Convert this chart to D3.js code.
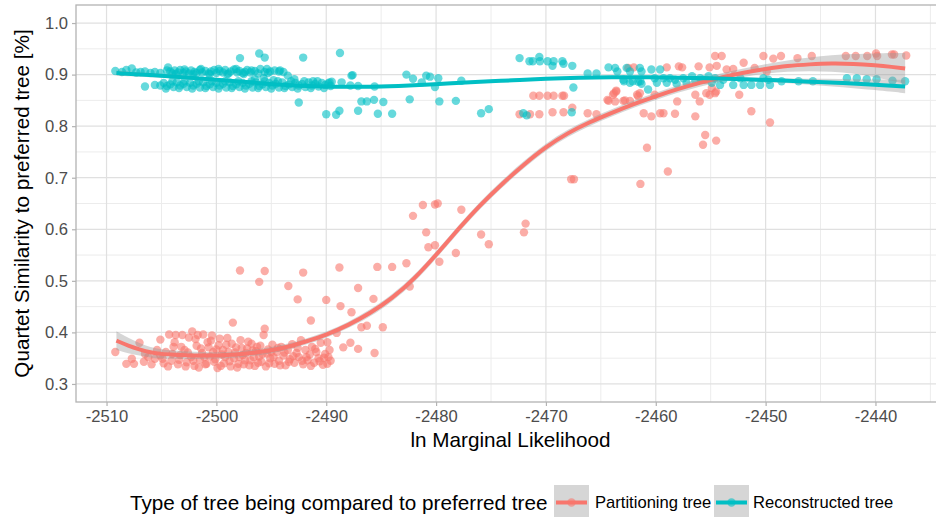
<!DOCTYPE html>
<html>
<head>
<meta charset="utf-8">
<script src="https://cdn.jsdelivr.net/npm/d3@7"></script>
<style>
  html, body { margin: 0; padding: 0; background: #ffffff; }
  svg { display: block; font-family: "Liberation Sans", Arial, Helvetica, sans-serif; }
</style>
</head>
<body>
<div id="chart"></div>
<script>
// Quartet similarity of trees vs. ln marginal likelihood, with smoothed fits.

const seriesNames = ["Partitioning tree", "Reconstructed tree"];
const seriesColors = ["#F8766D", "#00BFC4"];

const xTicks = [-2510, -2500, -2490, -2480, -2470, -2460, -2450, -2440];
const xMinorTicks = [-2505, -2495, -2485, -2475, -2465, -2455, -2445, -2435];
const yTicks = [0.3, 0.4, 0.5, 0.6, 0.7, 0.8, 0.9, 1.0];
const yMinorTicks = [0.35, 0.45, 0.55, 0.65, 0.75, 0.85, 0.95];

// [ln marginal likelihood, quartet similarity]
const partitioningPoints = [
  [-2509.2,0.362],[-2508.2,0.339],[-2507.7,0.349],[-2507.5,0.339],[-2507.0,0.380],[-2506.6,0.343],[-2506.5,0.358],
  [-2505.6,0.349],[-2505.1,0.386],[-2505.1,0.355],[-2504.8,0.340],[-2504.6,0.362],
  [-2504.3,0.396],[-2504.1,0.345],[-2503.9,0.372],[-2503.7,0.395],[-2503.5,0.338],[-2503.3,0.356],[-2503.1,0.395],
  [-2502.9,0.366],[-2502.7,0.342],[-2502.5,0.390],[-2502.3,0.352],[-2502.2,0.402],[-2502.0,0.335],[-2501.8,0.374],
  [-2501.7,0.395],[-2501.5,0.347],[-2501.3,0.360],[-2501.2,0.396],[-2501.0,0.338],[-2500.8,0.381],[-2500.6,0.353],
  [-2500.4,0.394],[-2500.2,0.343],[-2500.0,0.367],[-2499.9,0.331],[-2499.7,0.388],[-2499.5,0.357],[-2499.3,0.340],
  [-2499.1,0.376],[-2498.9,0.362],[-2498.7,0.334],[-2498.5,0.419],[-2498.4,0.350],[-2498.2,0.371],[-2498.0,0.339],
  [-2497.8,0.385],[-2497.6,0.356],[-2497.4,0.346],[-2497.2,0.369],[-2497.0,0.336],[-2496.8,0.378],[-2496.6,0.352],
  [-2496.4,0.364],[-2496.2,0.341],[-2496.0,0.374],[-2495.8,0.358],[-2495.7,0.395],[-2495.6,0.407],[-2495.5,0.334],
  [-2495.3,0.367],[-2495.1,0.350],[-2494.9,0.376],[-2494.7,0.339],[-2494.5,0.362],[-2494.3,0.345],[-2494.1,0.372],
  [-2493.9,0.355],[-2493.7,0.336],[-2493.5,0.366],[-2493.3,0.348],[-2493.1,0.377],[-2492.9,0.341],[-2492.7,0.360],
  [-2492.5,0.352],[-2492.3,0.385],[-2492.1,0.338],[-2491.9,0.366],[-2491.7,0.346],[-2491.5,0.357],[-2491.3,0.372],
  [-2491.1,0.341],[-2490.9,0.362],[-2490.7,0.350],[-2490.5,0.380],[-2490.3,0.337],[-2490.1,0.358],[-2489.9,0.381],
  [-2489.8,0.352],[-2489.6,0.345],[-2489.05,0.399],[-2488.45,0.371],[-2487.8,0.380],[-2487.1,0.368],[-2485.6,0.360],
  [-2506.2,0.352],[-2505.9,0.338],[-2505.4,0.366],[-2504.9,0.349],[-2504.4,0.334],[-2504.0,0.358],[-2503.8,0.381],
  [-2503.4,0.347],[-2503.2,0.372],[-2502.8,0.334],[-2502.6,0.361],[-2502.1,0.345],[-2501.9,0.387],[-2501.6,0.332],
  [-2501.4,0.369],[-2501.1,0.352],[-2500.9,0.339],[-2500.7,0.371],[-2500.5,0.384],[-2500.3,0.362],[-2500.1,0.348],
  [-2499.8,0.375],[-2499.6,0.335],[-2499.4,0.366],[-2499.2,0.352],[-2499.0,0.389],[-2498.8,0.344],[-2498.6,0.378],
  [-2498.3,0.361],[-2498.1,0.332],[-2497.9,0.352],[-2497.7,0.370],[-2497.5,0.338],[-2497.3,0.360],[-2497.1,0.382],
  [-2496.9,0.346],[-2496.7,0.365],[-2496.5,0.335],[-2496.3,0.372],[-2496.1,0.353],[-2495.9,0.343],[-2495.4,0.359],
  [-2495.2,0.340],[-2495.0,0.362],[-2494.8,0.352],[-2494.4,0.370],[-2494.2,0.336],[-2493.8,0.361],[-2493.4,0.343],
  [-2493.0,0.354],[-2492.6,0.370],[-2492.2,0.345],[-2491.8,0.352],[-2491.4,0.335],[-2491.0,0.368],[-2490.6,0.344],
  [-2490.2,0.351],[-2489.9,0.339],[-2489.7,0.366],
  [-2497.85,0.520],[-2496.1,0.498],[-2495.6,0.519],[-2492.1,0.516],[-2493.45,0.490],[-2492.6,0.464],[-2488.8,0.526],
  [-2485.35,0.527],[-2484.0,0.527],[-2482.7,0.534],[-2482.4,0.489],[-2487.1,0.486],[-2490.0,0.463],[-2488.7,0.451],
  [-2487.7,0.439],[-2491.4,0.423],[-2486.8,0.410],[-2486.3,0.413],[-2484.85,0.410],[-2485.7,0.465],
  [-2482.1,0.626],[-2481.2,0.647],[-2480.1,0.648],[-2479.85,0.650],[-2477.7,0.638],[-2480.9,0.594],[-2480.7,0.565],
  [-2480.1,0.569],[-2479.7,0.537],[-2478.2,0.554],[-2475.9,0.590],[-2475.2,0.571],[-2472.0,0.594],[-2471.85,0.611],
  [-2467.7,0.697],[-2467.45,0.697],
  [-2471.15,0.859],[-2470.6,0.859],[-2469.85,0.859],[-2469.3,0.859],[-2468.5,0.859],[-2468.35,0.859],[-2472.4,0.823],
  [-2471.45,0.823],[-2470.6,0.823],[-2469.4,0.827],[-2468.4,0.827],[-2467.6,0.836],[-2466.2,0.825],[-2465.4,0.823],
  [-2464.3,0.849],[-2463.8,0.864],[-2463.6,0.869],[-2463.9,0.861],[-2463.6,0.867],[-2463.7,0.848],[-2462.95,0.849],
  [-2462.35,0.849],[-2461.7,0.861],[-2461.45,0.864],[-2461.1,0.825],[-2460.4,0.819],[-2459.6,0.825],[-2459.3,0.825],
  [-2458.25,0.824],[-2460.1,0.861],[-2458.05,0.848],[-2456.4,0.819],[-2456.4,0.861],[-2456.0,0.848],[-2455.4,0.864],
  [-2455.1,0.861],[-2454.6,0.864],[-2452.4,0.861],[-2451.3,0.829],[-2449.6,0.807],[-2455.5,0.783],[-2455.7,0.764],
  [-2454.5,0.772],[-2460.8,0.758],[-2458.9,0.712],[-2461.4,0.688],[-2464.4,0.851],[-2462.8,0.850],[-2461.6,0.858],
  [-2462.5,0.913],[-2462.0,0.914],[-2459.0,0.914],[-2457.9,0.916],[-2457.6,0.914],[-2456.1,0.916],[-2455.1,0.914],
  [-2454.45,0.917],[-2454.6,0.936],[-2454.0,0.936],[-2453.55,0.910],[-2452.95,0.911],[-2452.0,0.923],[-2451.0,0.913],
  [-2450.2,0.936],[-2449.3,0.931],[-2449.9,0.906],[-2454.9,0.874],[-2455.4,0.890],[-2454.5,0.867],
  [-2448.6,0.936],[-2447.1,0.932],[-2445.8,0.936],[-2442.7,0.936],[-2441.8,0.936],[-2440.75,0.936],[-2439.95,0.941],
  [-2439.85,0.936],[-2438.5,0.939],[-2438.3,0.939],[-2437.2,0.937]
];

const reconstructedPoints = [
  [-2509.2,0.907],[-2508.6,0.905],[-2508.2,0.909],[-2507.7,0.912],[-2507.3,0.904],[-2506.9,0.905],[-2506.5,0.906],
  [-2506.5,0.877],[-2506.0,0.903],[-2505.6,0.905],[-2505.6,0.880],[-2505.1,0.903],[-2505.1,0.879],[-2504.4,0.914],
  [-2504.2,0.906],[-2504.0,0.902],[-2503.8,0.908],[-2503.5,0.904],[-2503.3,0.909],[-2503.0,0.903],[-2502.8,0.906],
  [-2502.5,0.902],[-2502.3,0.908],[-2502.0,0.905],[-2501.8,0.903],[-2501.5,0.909],[-2501.3,0.904],[-2501.0,0.907],
  [-2500.7,0.902],[-2500.5,0.906],[-2500.2,0.909],[-2500.0,0.903],[-2499.7,0.907],[-2499.4,0.904],[-2499.2,0.909],
  [-2498.9,0.902],[-2498.7,0.906],[-2498.4,0.910],[-2498.1,0.904],[-2497.9,0.907],[-2497.6,0.903],[-2497.4,0.905],
  [-2497.2,0.909],[-2496.9,0.904],[-2496.5,0.907],[-2496.0,0.911],[-2495.6,0.905],[-2495.4,0.911],[-2495.1,0.906],
  [-2494.3,0.906],[-2494.2,0.908],
  [-2504.5,0.908],[-2503.7,0.901],[-2502.9,0.910],[-2502.1,0.901],[-2501.4,0.911],[-2500.6,0.901],[-2499.8,0.911],
  [-2499.0,0.901],[-2498.2,0.911],[-2497.5,0.901],[-2496.8,0.908],[-2496.2,0.902],[-2495.3,0.903],[-2494.7,0.908],
  [-2493.9,0.905],
  [-2504.8,0.884],[-2504.5,0.878],[-2504.2,0.881],[-2503.9,0.876],[-2503.6,0.885],[-2503.3,0.879],[-2503.0,0.882],
  [-2502.7,0.876],[-2502.4,0.884],[-2502.1,0.879],[-2501.8,0.882],[-2501.5,0.875],[-2501.2,0.885],[-2500.9,0.878],
  [-2500.6,0.881],[-2500.3,0.876],[-2500.0,0.884],[-2499.7,0.879],[-2499.4,0.882],[-2499.1,0.875],[-2498.8,0.885],
  [-2498.5,0.878],[-2498.2,0.881],[-2497.9,0.876],[-2497.6,0.884],[-2497.3,0.879],[-2497.0,0.882],[-2496.7,0.875],
  [-2496.4,0.885],[-2496.1,0.878],[-2495.8,0.881],[-2495.5,0.876],[-2495.2,0.884],[-2494.9,0.879],[-2494.6,0.882],
  [-2494.3,0.875],[-2494.0,0.885],[-2493.7,0.878],[-2493.4,0.881],[-2493.1,0.876],[-2492.8,0.884],[-2492.5,0.879],
  [-2492.2,0.882],[-2491.9,0.876],[-2491.6,0.885],[-2491.3,0.879],[-2491.0,0.882],[-2490.7,0.877],[-2490.4,0.884],
  [-2490.1,0.880],[-2489.8,0.883],[-2489.6,0.878],
  [-2504.6,0.873],[-2504.0,0.887],[-2503.4,0.874],[-2502.9,0.887],[-2502.2,0.873],[-2501.6,0.887],[-2501.0,0.874],
  [-2500.4,0.887],[-2499.8,0.873],[-2499.2,0.887],[-2498.6,0.874],[-2498.0,0.887],[-2497.4,0.873],[-2496.8,0.887],
  [-2496.2,0.874],[-2495.6,0.887],[-2495.0,0.873],[-2494.4,0.887],[-2493.8,0.874],[-2493.2,0.887],[-2492.6,0.873],
  [-2492.0,0.887],[-2491.4,0.874],[-2490.8,0.887],[-2490.2,0.874],[-2489.5,0.886],
  [-2496.5,0.891],[-2495.7,0.893],[-2494.8,0.889],[-2493.5,0.898],[-2492.9,0.891],[-2491.2,0.887],[-2489.7,0.885],
  [-2488.6,0.885],[-2487.8,0.879],[-2487.1,0.878],[-2485.6,0.877],
  [-2497.85,0.932],[-2496.1,0.941],[-2495.6,0.933],[-2492.1,0.933],[-2488.75,0.942],[-2492.5,0.846],[-2487.7,0.898],
  [-2487.6,0.899],[-2486.8,0.848],[-2486.3,0.848],[-2485.65,0.851],[-2484.8,0.847],[-2490.0,0.823],[-2489.1,0.822],
  [-2488.8,0.830],[-2487.1,0.830],[-2485.3,0.824],[-2484.0,0.824],[-2482.7,0.900],[-2482.1,0.892],[-2481.3,0.885],
  [-2480.9,0.898],[-2480.55,0.896],[-2479.8,0.893],[-2480.1,0.876],[-2482.4,0.852],[-2479.7,0.848],[-2478.2,0.849],
  [-2477.7,0.888],[-2475.9,0.825],[-2475.2,0.833],
  [-2472.4,0.932],[-2471.5,0.926],[-2471.2,0.926],[-2470.6,0.934],[-2470.55,0.926],[-2469.85,0.926],[-2469.4,0.917],
  [-2469.3,0.926],[-2468.5,0.926],[-2468.4,0.921],[-2467.6,0.917],[-2467.5,0.875],[-2472.06,0.825],[-2471.75,0.821],
  [-2467.65,0.827],[-2466.2,0.902],[-2465.4,0.902],
  [-2464.3,0.914],[-2463.7,0.913],[-2463.5,0.906],[-2462.65,0.913],[-2462.35,0.906],[-2461.45,0.913],[-2461.3,0.906],
  [-2460.4,0.910],[-2459.6,0.910],[-2462.95,0.890],[-2462.35,0.884],[-2461.6,0.886],[-2461.3,0.882],[-2460.7,0.871],
  [-2460.1,0.893],[-2459.9,0.884],[-2459.3,0.893],[-2459.0,0.884],[-2458.7,0.893],[-2458.25,0.890],[-2458.1,0.882],
  [-2457.5,0.893],[-2457.2,0.884],[-2456.7,0.897],[-2456.4,0.887],[-2455.95,0.893],[-2455.7,0.890],[-2455.2,0.897],
  [-2454.9,0.884],[-2454.6,0.893],[-2454.15,0.880],[-2453.85,0.890],[-2452.95,0.880],[-2452.3,0.893],[-2452.0,0.880],
  [-2451.3,0.880],[-2450.5,0.880],[-2450.2,0.893],[-2449.6,0.880],[-2449.75,0.890],[-2462.9,0.887],[-2462.1,0.887],
  [-2461.4,0.887],
  [-2448.55,0.887],[-2447.0,0.887],[-2445.7,0.887],[-2442.6,0.893],[-2441.7,0.893],[-2440.8,0.891],[-2439.9,0.891],
  [-2438.45,0.888],[-2437.3,0.887]
];

// Smoothed fits: [x, fitted value, band half-width]
const partitioningFit = [
  [-2509.1,0.384,0.018],[-2508,0.374,0.015],[-2507,0.367,0.012],[-2506,0.361,0.010],[-2505,0.358,0.009],
  [-2504,0.357,0.008],[-2502,0.355,0.007],[-2500,0.355,0.006],[-2498,0.357,0.006],[-2496,0.362,0.006],
  [-2494,0.369,0.006],[-2492,0.381,0.006],[-2490,0.395,0.006],[-2488,0.414,0.006],[-2486,0.437,0.007],
  [-2484,0.466,0.007],[-2482,0.503,0.007],[-2480,0.550,0.007],[-2478,0.600,0.007],[-2476,0.647,0.007],
  [-2474,0.688,0.007],[-2472,0.726,0.007],[-2470,0.760,0.007],[-2468,0.787,0.007],[-2466,0.808,0.007],
  [-2464,0.826,0.007],[-2462,0.843,0.007],[-2460,0.858,0.007],[-2458,0.872,0.007],[-2456,0.884,0.007],
  [-2454,0.895,0.008],[-2452,0.904,0.008],[-2450,0.911,0.009],[-2448,0.917,0.011],[-2446,0.920,0.013],
  [-2444,0.922,0.016],[-2442,0.921,0.019],[-2440,0.918,0.023],[-2438.5,0.915,0.027],[-2437.3,0.912,0.030]
];

const reconstructedFit = [
  [-2509.1,0.903,0.005],[-2506,0.899,0.004],[-2503,0.895,0.003],[-2500,0.890,0.003],[-2497,0.885,0.003],
  [-2494,0.880,0.003],[-2491,0.877,0.003],[-2488,0.876,0.003],[-2485,0.877,0.003],[-2482,0.879,0.003],
  [-2479,0.883,0.003],[-2476,0.886,0.003],[-2473,0.889,0.003],[-2470,0.892,0.003],[-2467,0.894,0.003],
  [-2464,0.895,0.003],[-2461,0.895,0.003],[-2458,0.894,0.003],[-2455,0.893,0.003],[-2452,0.891,0.004],
  [-2449,0.889,0.004],[-2446,0.886,0.006],[-2443,0.884,0.008],[-2440,0.880,0.010],[-2437.3,0.877,0.013]
];

const W = 936, H = 517;
const panel = { left: 76, top: 5, right: 945, bottom: 402 };

const x = d3.scaleLinear().domain([-2512.78, -2433.67]).range([panel.left, panel.right]);
const y = d3.scaleLinear().domain([0.265, 1.035]).range([panel.bottom, panel.top]);

const svg = d3.select("#chart").append("svg").attr("width", W).attr("height", H);

svg.append("defs").append("clipPath").attr("id", "panel-clip")
  .append("rect")
  .attr("x", panel.left).attr("y", panel.top)
  .attr("width", panel.right - panel.left).attr("height", panel.bottom - panel.top);

// Panel grid
const grid = svg.append("g");
grid.selectAll("line.ymin").data(yMinorTicks).join("line")
  .attr("x1", panel.left).attr("x2", panel.right)
  .attr("y1", d => y(d)).attr("y2", d => y(d))
  .attr("stroke", "#ececec").attr("stroke-width", 1);
grid.selectAll("line.xmin").data(xMinorTicks).join("line")
  .attr("y1", panel.top).attr("y2", panel.bottom)
  .attr("x1", d => x(d)).attr("x2", d => x(d))
  .attr("stroke", "#ececec").attr("stroke-width", 1);
grid.selectAll("line.ymaj").data(yTicks).join("line")
  .attr("x1", panel.left).attr("x2", panel.right)
  .attr("y1", d => y(d)).attr("y2", d => y(d))
  .attr("stroke", "#e0e0e0").attr("stroke-width", 1.2);
grid.selectAll("line.xmaj").data(xTicks).join("line")
  .attr("y1", panel.top).attr("y2", panel.bottom)
  .attr("x1", d => x(d)).attr("x2", d => x(d))
  .attr("stroke", "#e0e0e0").attr("stroke-width", 1.2);

const plot = svg.append("g").attr("clip-path", "url(#panel-clip)");

// Points
const pointSets = [partitioningPoints, reconstructedPoints];
pointSets.forEach((pts, i) => {
  plot.append("g").selectAll("circle").data(pts).join("circle")
    .attr("cx", d => x(d[0])).attr("cy", d => y(d[1]))
    .attr("r", 4.2)
    .attr("fill", seriesColors[i]).attr("fill-opacity", 0.6);
});

// Smoothed fits with bands
const fits = [partitioningFit, reconstructedFit];
const band = d3.area().curve(d3.curveBasis)
  .x(d => x(d[0])).y0(d => y(d[1] - d[2])).y1(d => y(d[1] + d[2]));
const fitLine = d3.line().curve(d3.curveBasis)
  .x(d => x(d[0])).y(d => y(d[1]));
fits.forEach((f, i) => {
  plot.append("path").datum(f).attr("d", band)
    .attr("fill", "#999999").attr("fill-opacity", 0.4);
  plot.append("path").datum(f).attr("d", fitLine)
    .attr("fill", "none").attr("stroke", seriesColors[i]).attr("stroke-width", 4);
});

// Panel border
svg.append("rect")
  .attr("x", panel.left).attr("y", panel.top)
  .attr("width", panel.right - panel.left).attr("height", panel.bottom - panel.top)
  .attr("fill", "none").attr("stroke", "#b3b3b3").attr("stroke-width", 1.3);

// Axes
const xAxis = d3.axisBottom(x).tickValues(xTicks).tickSize(4).tickPadding(4)
  .tickFormat(d => String(d));
const yAxis = d3.axisLeft(y).tickValues(yTicks).tickSize(4).tickPadding(4)
  .tickFormat(d3.format(".1f"));

const gx = svg.append("g").attr("transform", `translate(0,${panel.bottom})`).call(xAxis);
const gy = svg.append("g").attr("transform", `translate(${panel.left},0)`).call(yAxis);
[gx, gy].forEach(g => {
  g.select(".domain").remove();
  g.selectAll(".tick line").attr("stroke", "#b3b3b3").attr("stroke-width", 1.2);
  g.selectAll(".tick text").attr("fill", "#4d4d4d")
    .style("font-size", "16.6px").style("font-family", "'Liberation Sans', Arial, Helvetica, sans-serif");
});

// Axis titles
svg.append("text")
  .attr("x", (panel.left + panel.right) / 2).attr("y", 447)
  .attr("text-anchor", "middle").attr("fill", "#000")
  .style("font-size", "20.7px")
  .text("ln Marginal Likelihood");

svg.append("text")
  .attr("transform", `translate(29,${(panel.top + panel.bottom) / 2}) rotate(-90)`)
  .attr("text-anchor", "middle").attr("fill", "#000")
  .style("font-size", "20.7px")
  .text("Quartet Similarity to preferred tree [%]");

// Legend
const legend = svg.append("g");
legend.append("text")
  .attr("x", 130).attr("y", 509.5)
  .attr("fill", "#000").style("font-size", "20.7px")
  .text("Type of tree being compared to preferred tree");

const keyX = [554, 714];
const labelX = [595, 753];
const keyY = 485, keySize = 35;
seriesNames.forEach((name, i) => {
  const k = legend.append("g");
  k.append("rect")
    .attr("x", keyX[i]).attr("y", keyY)
    .attr("width", keySize).attr("height", keySize)
    .attr("fill", "#d6d6d6");
  k.append("line")
    .attr("x1", keyX[i] + 2).attr("x2", keyX[i] + keySize - 2)
    .attr("y1", keyY + keySize / 2).attr("y2", keyY + keySize / 2)
    .attr("stroke", seriesColors[i]).attr("stroke-width", 4);
  k.append("circle")
    .attr("cx", keyX[i] + keySize / 2).attr("cy", keyY + keySize / 2)
    .attr("r", 4.2).attr("fill", seriesColors[i]).attr("fill-opacity", 0.6);
  legend.append("text")
    .attr("x", labelX[i]).attr("y", 508)
    .attr("fill", "#000").style("font-size", "16.6px")
    .text(name);
});
</script>
</body>
</html>
